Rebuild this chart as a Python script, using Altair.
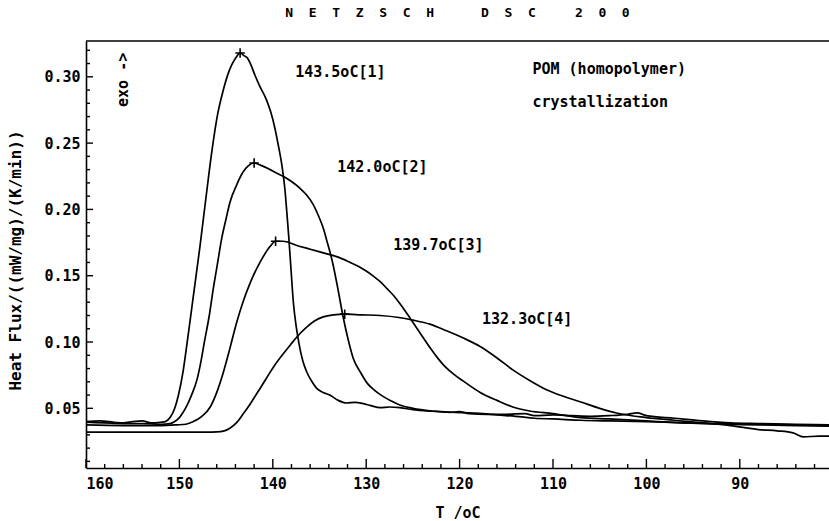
import altair as alt
import pandas as pd

# ---- data ----
c1_T = [160, 158.5, 157, 156, 155, 154, 153, 152, 151.5, 151.0, 150.5, 150.1, 149.6, 149.2, 148.5, 147.8, 147.1, 146.5, 145.9, 145.3, 144.8, 144.4, 143.9, 143.5, 143.1, 142.7, 142.4, 141.9, 141.4, 140.7, 140.2, 139.8, 139.4, 139.0, 138.7, 138.5, 138.3, 138.1, 137.8, 137.5, 137.2, 136.8, 136.4, 135.8, 135.3, 134.6, 133.9, 133.0, 132.1, 131.2, 130.3, 129.5, 128.5, 127.5, 126.4, 125.0, 123.5, 122.0, 120.5, 119.0, 117.5, 116.0, 114.0, 112.0, 110.0, 107.0, 104.0, 100.0, 96.0, 92.0, 88.0, 84.0, 80.45]
c1_Y = [0.040, 0.0405, 0.0395, 0.039, 0.040, 0.0405, 0.039, 0.0395, 0.040, 0.043, 0.050, 0.060, 0.078, 0.098, 0.135, 0.172, 0.212, 0.245, 0.272, 0.290, 0.302, 0.309, 0.315, 0.318, 0.316, 0.314, 0.310, 0.301, 0.293, 0.283, 0.273, 0.262, 0.248, 0.232, 0.215, 0.198, 0.180, 0.160, 0.130, 0.112, 0.099, 0.086, 0.078, 0.070, 0.065, 0.062, 0.060, 0.056, 0.054, 0.0545, 0.0535, 0.052, 0.0505, 0.051, 0.0505, 0.049, 0.048, 0.0475, 0.047, 0.0465, 0.046, 0.045, 0.044, 0.0425, 0.042, 0.041, 0.0405, 0.040, 0.039, 0.0385, 0.038, 0.0375, 0.037]

c2_T = [160, 158, 156, 154, 152, 151.0, 150.5, 150.0, 149.6, 149.2, 148.7, 148.1, 147.7, 147.3, 146.8, 146.4, 145.9, 145.5, 145.0, 144.6, 143.9, 143.2, 142.6, 142.0, 141.2, 140.3, 139.5, 138.9, 138.0, 137.1, 136.4, 135.7, 135.1, 134.6, 134.2, 133.6, 133.0, 132.5, 131.9, 131.4, 130.6, 129.9, 129.0, 128.2, 127.3, 126.4, 125.0, 123.0, 121.0, 120.0, 119.0, 117.0, 115.0, 113.0, 112.0, 110.0, 108.0, 106.0, 104.0, 102.0, 101.0, 100.0, 97.0, 94.0, 91.0, 88.0, 84.0, 80.45]
c2_Y = [0.0395, 0.039, 0.0385, 0.0385, 0.038, 0.0385, 0.040, 0.043, 0.047, 0.052, 0.060, 0.072, 0.085, 0.101, 0.120, 0.139, 0.160, 0.177, 0.193, 0.205, 0.218, 0.228, 0.233, 0.235, 0.233, 0.230, 0.227, 0.225, 0.221, 0.216, 0.211, 0.204, 0.195, 0.186, 0.176, 0.160, 0.139, 0.120, 0.101, 0.088, 0.077, 0.069, 0.063, 0.059, 0.0555, 0.0525, 0.050, 0.048, 0.047, 0.0475, 0.046, 0.0455, 0.0455, 0.046, 0.0445, 0.045, 0.0445, 0.044, 0.0445, 0.0455, 0.0465, 0.0445, 0.0425, 0.0405, 0.039, 0.0385, 0.038, 0.0375]

c3_T = [160, 156, 152, 150.3, 149.3, 148.5, 147.6, 146.7, 146.0, 145.3, 144.6, 143.9, 143.2, 142.4, 141.3, 140.3, 139.7, 138.9, 137.5, 136.0, 134.5, 133.0, 131.7, 130.8, 130.0, 129.2, 128.5, 127.8, 127.0, 126.4, 125.3, 124.2, 123.2, 122.3, 121.5, 120.5, 119.6, 117.8, 116.0, 114.3, 112.5, 110.0, 107.0, 104.0, 100.0, 96.0, 92.0, 88.0, 84.0, 80.45]
c3_Y = [0.0375, 0.037, 0.037, 0.0375, 0.038, 0.040, 0.044, 0.051, 0.062, 0.077, 0.095, 0.114, 0.130, 0.145, 0.161, 0.172, 0.176, 0.176, 0.173, 0.170, 0.167, 0.164, 0.160, 0.157, 0.1535, 0.1495, 0.1455, 0.1405, 0.1345, 0.129, 0.118, 0.1065, 0.096, 0.0875, 0.081, 0.075, 0.0705, 0.062, 0.056, 0.051, 0.048, 0.046, 0.043, 0.042, 0.0405, 0.039, 0.038, 0.0375, 0.037, 0.0365]

c4_T = [160, 155, 150, 147, 146, 145.3, 144.6, 143.9, 143.2, 142.4, 141.5, 140.7, 139.8, 138.9, 138.1, 137.4, 136.4, 135.5, 134.6, 133.5, 132.3, 130.5, 128.5, 126.5, 125.0, 123.2, 121.4, 119.6, 117.8, 116.0, 114.3, 112.5, 110.7, 109.3, 107.1, 105.0, 103.2, 100.0, 97.0, 94.0, 91.0, 88.0, 86.0, 84.3, 83.2, 81.5, 80.45]
c4_Y = [0.032, 0.032, 0.032, 0.032, 0.0322, 0.0328, 0.035, 0.039, 0.0455, 0.0535, 0.0635, 0.0725, 0.0825, 0.091, 0.098, 0.104, 0.111, 0.116, 0.119, 0.1205, 0.121, 0.1205, 0.120, 0.1185, 0.1165, 0.1135, 0.1085, 0.103, 0.0966, 0.088, 0.079, 0.071, 0.064, 0.060, 0.055, 0.050, 0.0465, 0.043, 0.041, 0.039, 0.037, 0.034, 0.033, 0.0315, 0.0285, 0.029, 0.029]

peak_T = [143.5, 142.0, 139.7, 132.3]
peak_Y = [0.318, 0.235, 0.176, 0.121]

label_text = ["143.5oC[1]", "142.0oC[2]", "139.7oC[3]", "132.3oC[4]", "POM  (homopolymer)", "crystallization"]
label_T = [137.6, 133.1, 127.1, 117.6, 112.2, 112.2]
label_Y = [0.304, 0.232, 0.173, 0.1175, 0.306, 0.281]

x_major = [160, 150, 140, 130, 120, 110, 100, 90]
x_minor = [t for t in range(82, 160, 2) if t % 10 != 0]
y_major = [0.05, 0.10, 0.15, 0.20, 0.25, 0.30]
y_minor = [round(0.01 * k, 2) for k in range(1, 33) if k % 5 != 0]

X_DOM = [80.45, 160]
Y_DOM = [0.005, 0.327]
W, H = 743, 427
FONT = "DejaVu Sans Mono"
FW = "bold"

rows = []
for name, ts, ys in [("1", c1_T, c1_Y), ("2", c2_T, c2_Y), ("3", c3_T, c3_Y), ("4", c4_T, c4_Y)]:
    for i, (t, v) in enumerate(zip(ts, ys)):
        rows.append({"curve": name, "idx": i, "T": t, "Y": v})
df = pd.DataFrame(rows)

xs = alt.Scale(domain=X_DOM, reverse=True, nice=False, zero=False)
ys_ = alt.Scale(domain=Y_DOM, nice=False, zero=False)

x_axis = alt.Axis(values=x_major, format="d", ticks=False, grid=False, domainColor="black",
                  domainWidth=1.6, labelFont=FONT, labelFontSize=15, labelFontWeight=FW,
                  labelColor="black", labelPadding=8, title="T /oC", titleFont=FONT,
                  titleFontSize=15, titleFontWeight=FW, titleColor="black", titleY=44,
                  titleBaseline="middle")
y_axis = alt.Axis(values=y_major, format=".2f", ticks=False, grid=False, domainColor="black",
                  domainWidth=1.6, labelFont=FONT, labelFontSize=15, labelFontWeight=FW,
                  labelColor="black", labelPadding=6, title="Heat Flux/((mW/mg)/(K/min))",
                  titleFont=FONT, titleFontSize=16, titleFontWeight=FW, titleColor="black",
                  titleX=-71, titleY=219, titleBaseline="middle")

X = alt.X("T:Q", scale=xs, axis=x_axis)
Y = alt.Y("Y:Q", scale=ys_, axis=y_axis)

lines = alt.Chart(df).mark_line(color="black", strokeWidth=1.7, interpolate="monotone").encode(
    x=X, y=Y, detail="curve:N", order="idx:Q")

peaks = alt.Chart(pd.DataFrame({"T": peak_T, "Y": peak_Y})).mark_point(
    shape="M-1,0H1M0,-1V1", filled=False, color="black", strokeWidth=1.6, size=90, opacity=1
).encode(x=X, y=Y)

labels = alt.Chart(pd.DataFrame({"T": label_T, "Y": label_Y, "t": label_text})).mark_text(
    align="left", baseline="middle", font=FONT, fontSize=15, fontWeight=FW, color="black"
).encode(x=X, y=Y, text="t:N")

exo = alt.Chart(pd.DataFrame({"T": [156.0], "Y": [0.2977], "t": ["exo ->"]})).mark_text(
    align="center", baseline="middle", font=FONT, fontSize=15, fontWeight=FW, color="black", angle=270
).encode(x=X, y=Y, text="t:N")

xt_major = alt.Chart(pd.DataFrame({"T": x_major})).mark_rule(color="black", strokeWidth=1.4).encode(
    x=X, y=alt.value(H), y2=alt.value(H - 9))
xt_minor = alt.Chart(pd.DataFrame({"T": x_minor})).mark_rule(color="black", strokeWidth=1.4).encode(
    x=X, y=alt.value(H), y2=alt.value(H - 4))
yt_major = alt.Chart(pd.DataFrame({"Y": y_major})).mark_rule(color="black", strokeWidth=1.4).encode(
    y=Y, x=alt.value(0), x2=alt.value(7))
yt_minor = alt.Chart(pd.DataFrame({"Y": y_minor})).mark_rule(color="black", strokeWidth=1.4).encode(
    y=Y, x=alt.value(0), x2=alt.value(4))
top = alt.Chart(pd.DataFrame({"a": [0]})).mark_rule(color="black", strokeWidth=1.6).encode(
    x=alt.value(0), x2=alt.value(W), y=alt.value(0))

title_text = ("\u00a0\u00a0".join("NETZSCH") + "\u00a0" * 6 + "\u00a0\u00a0".join("DSC")
              + "\u00a0" * 5 + "\u00a0\u00a0".join("200"))

chart = alt.layer(lines, peaks, labels, exo, xt_major, xt_minor, yt_major, yt_minor, top).properties(
    width=W, height=H,
    autosize=alt.AutoSizeParams(type="none"),
    padding={"left": 86, "top": 41, "right": 0, "bottom": 53},
    title=alt.TitleParams(title_text, font=FONT, fontSize=13, fontWeight="bold", color="black",
                          anchor="middle", offset=20),
    background="white",
).configure_view(stroke=None)

chart.save("out.html", embed_options={"renderer": "svg", "actions": False})
